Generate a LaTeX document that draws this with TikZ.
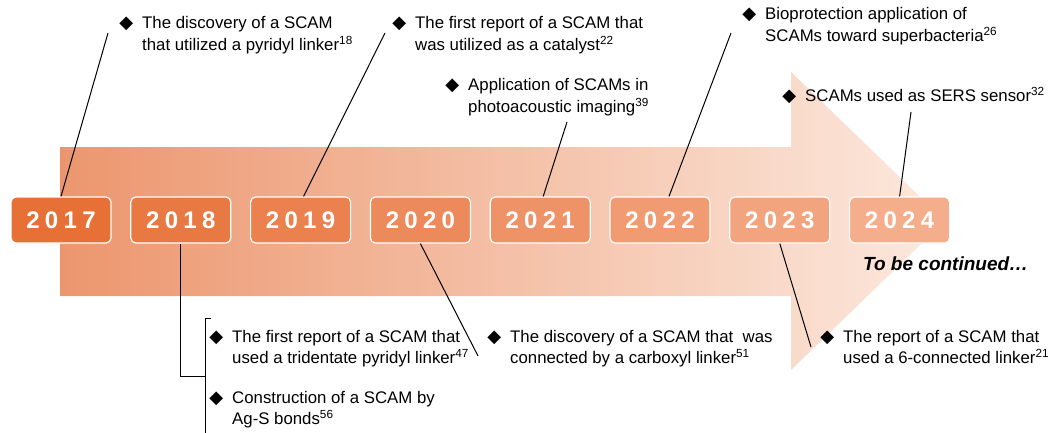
\documentclass[tikz,border=0pt]{standalone}
\usepackage{fontspec}
\setmainfont{Liberation Sans}
\newfontfamily\symfont{DejaVu Sans}
\newfontfamily\yearfont[LetterSpace=22]{Liberation Sans}
\usetikzlibrary{positioning}
\usetikzlibrary{chains}

\definecolor{arrowleft}{RGB}{236,150,110}
\definecolor{arrowright}{RGB}{252,233,222}
\definecolor{yeardark}{RGB}{231,112,55}
\definecolor{yearlight}{RGB}{244,174,140}

\newcommand{\bul}{\llap{{\symfont\fontsize{18}{18}\selectfont ◆}\hspace{9pt}}}

\begin{document}
\begin{tikzpicture}[x=1pt, y=1pt,
        node distance = 18.6pt,
        start chain = going right,
        year/.style = {draw=white, line width=1.2pt, rounded corners=5pt,
            on chain, minimum width=100pt, minimum height=46pt, text=white,
            font=\yearfont\bfseries\fontsize{24}{24}\selectfont},
        note/.style = {align=left, anchor=base west, inner sep=0pt,
            font=\fontsize{16.8}{21.5}\selectfont},
        link/.style = {line width=1pt}]
        \useasboundingbox (0,0) rectangle (1056,-433);
        \shade[left color=arrowleft, right color=arrowright]
            (60,-147) -- (791,-147) -- (791,-72) -- (945,-221)
            -- (791,-370) -- (791,-296) -- (60,-296) -- cycle;
        \node[year, fill=yeardark] (y2017) at (61,-220) {2017};
        \foreach \yr/\p in {2018/86,2019/72,2020/58,2021/44,2022/30,2023/16,2024/0}
            \node[year, fill=yeardark!\p!yearlight] (y\yr) {\yr};
        % notes above (base = last line)
        \node[note] (n17) at (142,-50.5) {\bul The discovery of a SCAM\\that utilized a pyridyl linker\textsuperscript{18}};
        \node[note] (n19) at (415,-50.5) {\bul The first report of a SCAM that\\was utilized as a catalyst\textsuperscript{22}};
        \node[note] (n21) at (468,-112.5) {\bul Application of SCAMs in\\photoacoustic imaging\textsuperscript{39}};
        \node[note] (n22) at (765,-41.5) {\bul Bioprotection application of\\SCAMs toward superbacteria\textsuperscript{26}};
        \node[note] (n24) at (805,-102) {\bul SCAMs used as SERS sensor\textsuperscript{32}};
        % notes below
        \node[note] (n18a) at (232,-363.5) {\bul The first report of a SCAM that\\used a tridentate pyridyl linker\textsuperscript{47}};
        \node[note] (n18b) at (232,-424.5) {\bul Construction of a SCAM by\\Ag-S bonds\textsuperscript{56}};
        \node[note] (n20) at (510,-363.5) {\bul The discovery of a SCAM that \ was\\connected by a carboxyl linker\textsuperscript{51}};
        \node[note] (n23) at (843,-363.5) {\bul The report of a SCAM that\\used a 6-connected linker\textsuperscript{21}};
        \node[note, font=\bfseries\itshape\fontsize{19}{19}\selectfont] (more) at (863,-270) {To be continued…};
        % connectors
        \coordinate (c17) at (108,-33);
        \coordinate (c19) at (385,-33);
        \coordinate (c21) at (567,-122);
        \coordinate (c22) at (731,-33);
        \coordinate (c24) at (911,-112);
        \coordinate (c20) at (478,-356);
        \coordinate (c23) at (811,-347);
        \coordinate (brk) at (205,-376);
        \coordinate (brktop) at (205,-318);
        \coordinate (brkbot) at (205,-440);
        \draw[link] (c17) -- (y2017.north);
        \draw[link] (c19) -- ([xshift=3pt]y2019.north);
        \draw[link] (c21) -- ([xshift=3pt]y2021.north);
        \draw[link] (c22) -- ([xshift=9pt]y2022.north);
        \draw[link] (c24) -- (y2024.north);
        \draw[link] (y2020.south) -- (c20);
        \draw[link] (y2023.south) -- (c23);
        \draw[link] (y2018.south) |- (brk);
        \draw[link] ([xshift=6pt]brktop) -- (brktop) -- (brkbot);
    \end{tikzpicture}
\end{document}
